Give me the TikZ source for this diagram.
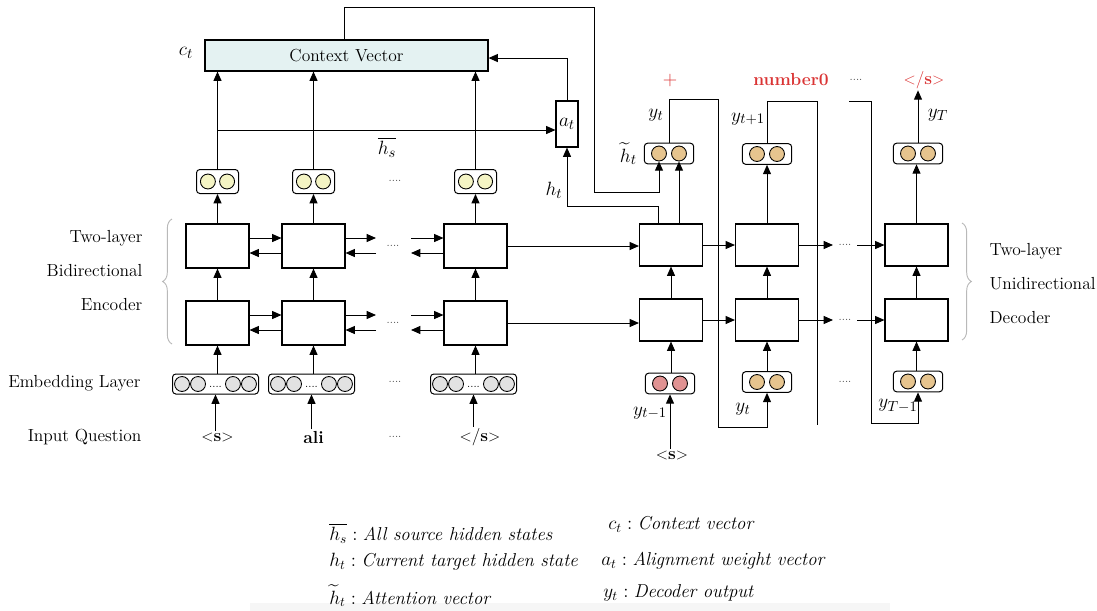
\documentclass[tikz,border=0pt]{standalone}
\usepackage{amsmath}
\usetikzlibrary{arrows.meta,decorations.pathreplacing,calc}
\definecolor{cvfill}{RGB}{228,242,242}
\definecolor{yelc}{RGB}{244,244,196}
\definecolor{tanc}{RGB}{230,196,142}
\definecolor{pinkc}{RGB}{224,146,146}
\definecolor{grayc}{RGB}{226,226,226}
\definecolor{redt}{RGB}{218,52,52}
\definecolor{bracec}{RGB}{185,185,185}
\definecolor{stripc}{RGB}{246,246,246}
\tikzset{
  cell/.style={draw, line width=0.8pt, minimum width=47.25pt, minimum height=33pt, inner sep=0, fill=white},
  dcell/.style={cell, minimum height=31.5pt},
  vbox/.style={draw, line width=0.75pt, rounded corners=2.5pt, minimum width=31.5pt, minimum height=18pt, inner sep=0, fill=white},
  dbox/.style={vbox, minimum width=37pt, minimum height=15.5pt},
  ebox/.style={vbox, minimum width=64.5pt, minimum height=15pt},
  vdot/.style={circle, draw, line width=0.65pt, minimum size=11.2pt, inner sep=0},
  lab/.style={inner sep=1pt},
  mlab/.style={inner sep=1pt, font=\fontsize{15}{17}\selectfont},
  leg/.style={inner sep=0pt, anchor=west, font=\fontsize{14}{16}\selectfont},
  dotsl/.style={font=\footnotesize, text=black!70, inner sep=0},
  conn/.style={line width=0.75pt},
  arr/.style={conn, -{Triangle[length=7pt,width=6pt]}},
  redw/.style={text=redt},
}
\newcommand\vpair[6]{% name, x, y, fill, style, offset
  \node[#5] (#1) at (#2,#3) {};
  \node[vdot,fill=#4] (#1a) at ([xshift=-#6]#1.center) {};
  \node[vdot,fill=#4] (#1b) at ([xshift=#6]#1.center) {};
}
\newcommand\embbox[3]{% name, x, y
  \node[ebox] (#1) at (#2,#3) {};
  \node[vdot,fill=grayc] (#1a) at ([xshift=-25.1pt]#1.center) {};
  \node[vdot,fill=grayc] (#1b) at ([xshift=-13.1pt]#1.center) {};
  \node[vdot,fill=grayc] (#1c) at ([xshift=13.1pt]#1.center) {};
  \node[vdot,fill=grayc] (#1d) at ([xshift=25.1pt]#1.center) {};
  \node[font=\footnotesize, inner sep=0] (#1dots) at ([yshift=-2.2pt]#1.center) {....};
}
\begin{document}
\begin{tikzpicture}[x=0.75pt,y=-0.75pt, font=\fontsize{13.1}{15.5}\selectfont]
\useasboundingbox (0,0) rectangle (1097,611);
\fill[stripc] (250,603) rectangle (890,611);

% ---------------- Context vector
\node[draw, line width=0.8pt, fill=cvfill, minimum width=212.25pt, minimum height=23.25pt, inner sep=0] (cv) at (346.5,55.5) {Context Vector};
\node[mlab] (ctl) at (186,53) {$c_t$};

% ---------------- Encoder
\node[cell] (e1t) at (217.5,246) {};
\node[cell] (e2t) at (313.5,246) {};
\node[cell] (e3t) at (475.5,246) {};
\node[cell] (e1b) at (217.5,323) {};
\node[cell] (e2b) at (313.5,323) {};
\node[cell] (e3b) at (475.5,323) {};
\vpair{h1}{217.5}{181.5}{yelc}{vbox}{7.2pt}
\vpair{h2}{313.5}{181.5}{yelc}{vbox}{7.2pt}
\vpair{h3}{475.5}{181.5}{yelc}{vbox}{7.2pt}
\embbox{m1}{215.5}{384}
\embbox{m2}{311.5}{384}
\embbox{m3}{473.5}{384}
\node[lab] (tk1) at (217.5,437) {$<$\textbf{s}$>$};
\node[lab] (tk2) at (313.5,437) {\textbf{ali}};
\node[lab] (tk3) at (480,437) {$<$/\textbf{s}$>$};
\node[dotsl] (dk) at (395,437) {....};
\node[dotsl] (dm) at (395,382) {....};
\node[dotsl] (dh) at (395,181) {....};
\node[dotsl] (det) at (393,246) {....};
\node[dotsl] (deb) at (393,323) {....};
\coordinate (g1t) at (376,246);
\coordinate (g2t) at (411,246);
\coordinate (g1b) at (376,323);
\coordinate (g2b) at (411,323);

% encoder labels
\node[lab, anchor=east] (lb1) at (144,238) {Two-layer};
\node[lab, anchor=east] (lb2) at (144,271) {Bidirectional};
\node[lab, anchor=east] (lb3) at (144,305) {Encoder};
\node[lab, anchor=east] (lb4) at (142,383) {Embedding Layer};
\node[lab, anchor=east] (lb5) at (143,437) {Input Question};
\draw[bracec, line width=0.7pt, decorate, decoration={brace, amplitude=7pt}] (172,344) -- (172,219);

% encoder vertical arrows
\foreach \c in {1,2,3} {
  \draw[arr] (tk\c.north -| m\c) -- (m\c.south);
  \draw[arr] (m\c.north -| e\c b) -- (e\c b.south);
  \draw[arr] (e\c b.north) -- (e\c t.south);
  \draw[arr] (e\c t.north) -- (h\c.south);
  \draw[arr] (h\c.north) -- (h\c.north |- cv.south);
}
% encoder horizontal arrows
\foreach \r in {t,b} {
  \draw[arr] ([yshift=6pt]e1\r.east) -- ([yshift=6pt]e2\r.west);
  \draw[arr] ([yshift=-5.25pt]e2\r.west) -- ([yshift=-5.25pt]e1\r.east);
  \draw[arr] ([yshift=6pt]e2\r.east) -- ([yshift=6pt]g1\r);
  \draw[arr] ([yshift=-5.25pt]g1\r) -- ([yshift=-5.25pt]e2\r.east);
  \draw[arr] ([yshift=6pt]g2\r) -- ([yshift=6pt]e3\r.west);
  \draw[arr] ([yshift=-5.25pt]e3\r.west) -- ([yshift=-5.25pt]g2\r);
}

% ---------------- Attention
\node[draw, line width=0.8pt, minimum width=16.5pt, minimum height=34.5pt, inner sep=0, font=\fontsize{15}{17}\selectfont] (at) at (567,124) {$a_t$};
\coordinate (hs) at (217.5,130);
\draw[arr] (hs) -- (hs -| at.west);
\node[mlab] (hsl) at (387,147) {$\overline{h_s}$};
\draw[arr] (at.north) |- ([yshift=-1.9pt]cv.east);

% ---------------- Decoder
\node[dcell] (d1t) at (671,245) {};
\node[dcell] (d2t) at (767,245) {};
\node[dcell] (d3t) at (916.5,245) {};
\node[dcell] (d1b) at (671,320) {};
\node[dcell] (d2b) at (767,320) {};
\node[dcell] (d3b) at (916.5,320) {};
\vpair{ht}{669}{153.5}{tanc}{dbox}{7.5pt}
\vpair{o2}{767}{154}{tanc}{dbox}{7.5pt}
\vpair{o3}{918}{153.5}{tanc}{dbox}{7.5pt}
\vpair{i1}{670}{383.5}{pinkc}{dbox}{7.5pt}
\vpair{i2}{767}{382}{tanc}{dbox}{7.5pt}
\vpair{i3}{918}{381.5}{tanc}{dbox}{7.5pt}
\node[lab] (ds) at (672,455) {$<$\textbf{s}$>$};
\node[dotsl] (dmi) at (845,382) {....};

% encoder -> decoder
\draw[arr] (e3t.east) -- (e3t.east -| d1t.west);
\draw[arr] (e3b.east) -- (e3b.east -| d1b.west);

% decoder horizontal
\coordinate (q1t) at (833,245);
\coordinate (q2t) at (857,245);
\coordinate (q1b) at (833,320);
\coordinate (q2b) at (857,320);
\foreach \r in {t,b} {
  \draw[arr] (d1\r.east) -- (d2\r.west);
  \draw[arr] (d2\r.east) -- (q1\r);
  \draw[arr] (q2\r) -- (d3\r.west);
  \node[dotsl] (qd\r) at ($(q1\r)!0.5!(q2\r)$) {....};
}

% decoder vertical
\draw[arr] (ds.north -| i1) -- (i1.south);
\draw[arr] (i1.north -| d1b) -- (d1b.south);
\draw[arr] (d1b.north) -- (d1t.south);
\draw[arr] (i2.north) -- (d2b.south);
\draw[arr] (d2b.north) -- (d2t.south);
\draw[arr] (d2t.north) -- (o2.south);
\draw[arr] (i3.north -| d3b) -- (d3b.south);
\draw[arr] (d3b.north) -- (d3t.south);
\draw[arr] (d3t.north) -- (o3.south -| d3t.north);
\draw[arr] (d1t.north -| htb) -- (htb.south);

% h_t to a_t
\coordinate (htc) at (567,206);
\draw[arr] (d1t.north -| 658,0) |- (htc) -- (at.south);
\node[mlab] (htl) at (554,190) {$h_t$};

% context feedback to attention vector
\coordinate (fb1) at (344,7);
\coordinate (fb2) at (594,7);
\coordinate (fb3) at (594,192);
\draw[arr] (cv.north -| fb1) -- (fb1) -- (fb2) -- (fb3) -| (hta.south);

% outputs
\node[lab, redw, font=\fontsize{15}{17}\selectfont] (w1) at (670,81) {+};
\node[lab, redw] (w2) at (791,80) {\textbf{number0}};
\node[dotsl] (w3) at (856,80) {....};
\node[lab, redw] (w4) at (924,80) {$<$/\textbf{s}$>$};
\draw[arr] (o3.north) -- (o3.north |- w4.south);

% feedback of outputs
\coordinate (f1a) at (718,99);
\coordinate (f1b) at (718,427);
\draw[arr] (ht.north) |- (f1a) -- (f1b) -| (i2.south);
\coordinate (f2a) at (817,101);
\coordinate (f2b) at (817,425);
\draw[conn] (o2.north) |- (f2a) -- (f2b);
\coordinate (f3s) at (849,101);
\coordinate (f3a) at (871,101);
\coordinate (f3b) at (871,423);
\draw[arr] (f3s) -- (f3a) -- (f3b) -| (i3.south);

% decoder labels
\node[mlab] (lyt) at (656,115) {$y_t$};
\node[mlab] (lyt1) at (748,119) {$y_{t+1}$};
\node[mlab] (lyT) at (938,115) {$y_T$};
\node[mlab, anchor=east, inner sep=0] (lht) at (637,154) {$\widetilde{h}_t$};
\node[mlab] (lym) at (650,413) {$y_{t-1}$};
\node[mlab] (lyb) at (743,409) {$y_t$};
\node[mlab] (lyTm) at (898,406) {$y_{T-1}$};

\node[lab, anchor=west] (rb1) at (988,251) {Two-layer};
\node[lab, anchor=west] (rb2) at (988,284) {Unidirectional};
\node[lab, anchor=west] (rb3) at (988,318) {Decoder};
\draw[bracec, line width=0.7pt, decorate, decoration={brace, amplitude=7pt}] (962,223) -- (962,340);

% ---------------- Legend
\node[leg] (g1) at (329,533) {$\overline{h_s}:$\hspace{4pt}\textit{All source hidden states}};
\node[leg] (g2) at (329,562) {$h_t:$\hspace{4pt}\textit{Current target hidden state}};
\node[leg] (g3) at (329,596) {$\widetilde{h}_t:$\hspace{4pt}\textit{Attention vector}};
\node[leg] (g4) at (608,524) {$c_t:$\hspace{4pt}\textit{Context vector}};
\node[leg] (g5) at (601,561) {$a_t:$\hspace{4pt}\textit{Alignment weight vector}};
\node[leg] (g6) at (603,593) {$y_t:$\hspace{4pt}\textit{Decoder output}};
\end{tikzpicture}
\end{document}
